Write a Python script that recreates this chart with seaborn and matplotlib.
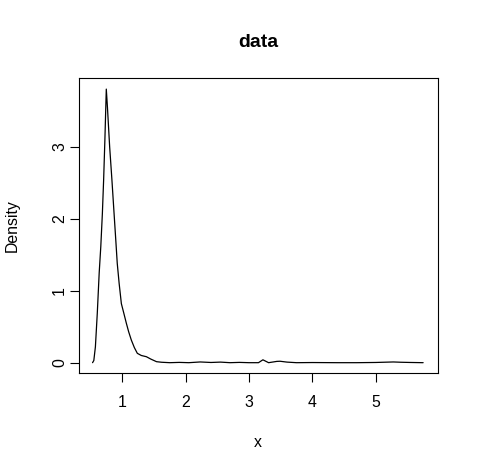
import matplotlib

matplotlib.use("Agg")
import matplotlib.pyplot as plt
import pandas as pd
import seaborn as sns

# density estimate
x_vals = [
    0.53, 0.55, 0.575, 0.605, 0.635, 0.66, 0.685, 0.705, 0.725, 0.747,
    0.765, 0.80, 0.835, 0.87, 0.90, 0.92, 0.95, 0.985, 1.02, 1.063,
    1.10, 1.142, 1.19, 1.237, 1.30, 1.38, 1.45, 1.54, 1.62, 1.75,
    1.90, 2.05, 2.23, 2.40, 2.55, 2.70, 2.85, 3.00, 3.15, 3.22,
    3.31, 3.44, 3.49, 3.60, 3.75, 4.00, 4.39, 4.70, 5.00, 5.28,
    5.40, 5.55, 5.75,
]
density = [
    0.0, 0.03, 0.22, 0.69, 1.25, 1.61, 2.07, 2.54, 3.10, 3.80,
    3.55, 3.00, 2.55, 2.07, 1.66, 1.38, 1.10, 0.82, 0.70, 0.55,
    0.43, 0.315, 0.21, 0.13, 0.10, 0.083, 0.05, 0.014, 0.006, 0.0,
    0.004, 0.0, 0.01, 0.003, 0.008, 0.0, 0.004, 0.0, 0.0, 0.04,
    0.0, 0.018, 0.02, 0.008, 0.0, 0.002, 0.0, 0.0, 0.003, 0.01,
    0.006, 0.003, 0.0,
]
x_ticks = [1, 2, 3, 4, 5]
y_ticks = [0, 1, 2, 3]

df = pd.DataFrame({"x": x_vals, "Density": density})

sns.set_style("ticks")
plt.rcParams["font.family"] = ["Liberation Sans", "DejaVu Sans"]
plt.rcParams["text.color"] = "black"
plt.rcParams["axes.labelcolor"] = "black"

fig = plt.figure(figsize=(4.78, 4.72), dpi=100)
ax = fig.add_axes([0.1646, 0.2104, 0.7511, 0.6237])

sns.lineplot(data=df, x="x", y="Density", ax=ax, color="black",
             linewidth=0.9, sort=False)

ax.set_xlim(0.311, 5.98)
ax.set_ylim(-0.139, 3.95)
ax.set_xticks(x_ticks)
ax.set_yticks(y_ticks)

for side in ["left", "right", "top", "bottom"]:
    ax.spines[side].set_visible(True)
    ax.spines[side].set_color("black")
    ax.spines[side].set_linewidth(0.8)

ax.tick_params(axis="both", direction="out", length=6.8, width=0.8,
               color="black", labelsize=11.4, labelcolor="black")
ax.tick_params(axis="x", pad=9.4)
ax.tick_params(axis="y", pad=7)
for lbl in ax.get_yticklabels():
    lbl.set_rotation(90)
    lbl.set_va("center")
    lbl.set_ha("center")

ax.set_xlabel("x", fontsize=11.4, color="black")
ax.xaxis.set_label_coords(0.5, -0.251)
ax.xaxis.label.set_va("baseline")
ax.set_ylabel("Density", fontsize=11.4, color="black")
ax.yaxis.set_label_coords(-0.184, 0.5)
ax.yaxis.label.set_va("center")

ax.set_title("data", fontsize=14, fontweight="bold", pad=22.3, color="black")

fig.savefig("out.png", dpi=100)
plt.close(fig)
